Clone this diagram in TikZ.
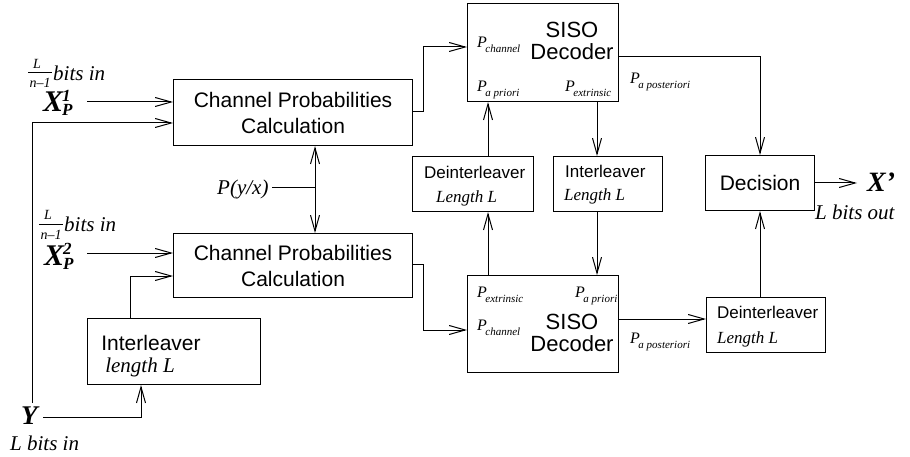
\documentclass[tikz,border=0pt]{standalone}
\usepackage{fontspec}
\setmainfont{Liberation Serif}
\setsansfont{Liberation Sans}
\usetikzlibrary{arrows.meta}
\newcommand\PP[1]{{\fontsize{16}{16}\selectfont P}\kern-1.5pt\raisebox{-5pt}{\fontsize{11}{11}\selectfont #1}}
\newcommand\XPlab[1]{{\fontsize{30}{30}\selectfont X}\kern-1pt\rlap{\raisebox{10pt}{\fontsize{17}{17}\selectfont #1}}\raisebox{-4pt}{\fontsize{17}{17}\selectfont P}}
\tikzset{
  box/.style={draw, line width=1.1pt, inner sep=0pt, anchor=north west},
  big/.style={font=\sffamily\fontsize{21}{26}\selectfont, align=center},
  sis/.style={font=\sffamily\fontsize{22}{22}\selectfont, align=center, inner sep=0pt},
  sml/.style={font=\sffamily\fontsize{17}{20}\selectfont, inner sep=0pt, anchor=base west},
  itl/.style={font=\itshape\fontsize{17}{20}\selectfont, inner sep=0pt, anchor=base west},
  itb/.style={font=\itshape\fontsize{21}{24}\selectfont, inner sep=0pt, anchor=base west},
  itf/.style={font=\itshape\fontsize{14}{14}\selectfont, inner sep=0pt, anchor=base},
  bi/.style={font=\bfseries\itshape, inner sep=0pt, anchor=base west},
  pl/.style={font=\itshape, inner sep=0pt, anchor=base west},
  conn/.style={line width=1pt},
  arr/.style={conn, -{Straight Barb[length=16pt,width=9pt]}},
  darr/.style={conn, {Straight Barb[length=16pt,width=9pt]}-{Straight Barb[length=16pt,width=9pt]}},
}
\begin{document}
\begin{tikzpicture}[x=1pt,y=-1pt]
\fill[white] (0,0) rectangle (910,457);
\useasboundingbox (0,0) rectangle (910,457);

% boxes
\node[box, big, minimum width=239pt, minimum height=66pt] (cpc1) at (173,79) {Channel Probabilities\\Calculation};
\node[box, big, minimum width=239pt, minimum height=64pt] (cpc2) at (173,233) {Channel Probabilities\\Calculation};
\node[box, minimum width=173pt, minimum height=66pt] (intl) at (87,318) {};
\node[box, minimum width=151pt, minimum height=98pt] (siso1) at (467,3) {};
\node[box, minimum width=151pt, minimum height=97pt] (siso2) at (467,275) {};
\node[box, minimum width=121pt, minimum height=55pt] (deint1) at (412,156) {};
\node[box, minimum width=109pt, minimum height=55pt] (intl2) at (553,156) {};
\node[box, big, minimum width=109pt, minimum height=55pt] (dec) at (705,155) {Decision};
\node[box, minimum width=119pt, minimum height=55pt] (deint2) at (706,297) {};

% box texts
\node[font=\sffamily\fontsize{21}{21}\selectfont, inner sep=0pt, anchor=base] (intlt) at (151,350) {Interleaver};
\node[font=\itshape\fontsize{21}{21}\selectfont, inner sep=0pt, anchor=base] (intll) at (140,372) {length L};
\node[sis] (siso1t) at (572,41) {SISO\\Decoder};
\node[sis] (siso2t) at (572,333) {SISO\\Decoder};
\node[sml] (d1t) at (424,179) {Deinterleaver};
\node[itl] (d1l) at (436,203) {Length L};
\node[sml] (i2t) at (565,178) {Interleaver};
\node[itl] (i2l) at (564,201) {Length L};
\node[sml] (d2t) at (717,318) {Deinterleaver};
\node[itl] (d2l) at (717,343) {Length L};

% P labels
\node[pl] (p1c) at (477,48) {\PP{channel}};
\node[pl] (p1a) at (477,92) {\PP{a priori}};
\node[pl] (p1e) at (565,92) {\PP{extrinsic}};
\node[pl] (p1p) at (630,84) {\PP{a posteriori}};
\node[pl] (p2e) at (477,297) {\PP{extrinsic}};
\node[pl] (p2a) at (575,297) {\PP{a priori}};
\node[pl] (p2c) at (477,330) {\PP{channel}};
\node[pl] (p2p) at (630,343) {\PP{a posteriori}};

% left labels
\node[itf] (fn1) at (37,69) {L};
\node[itf] (fd1) at (40,88) {n–1};
\draw[line width=0.7pt] (28,72) -- (52,72);
\node[itb] (bi1) at (53,81) {bits in};
\node[bi] (xp1) at (43,112) {\XPlab{1}};
\node[itf] (fn2) at (48,220) {L};
\node[itf] (fd2) at (51,240) {n–1};
\draw[line width=0.7pt] (39,224) -- (63,224);
\node[itb] (bi2) at (64,232) {bits in};
\node[bi] (xp2) at (44,265) {\XPlab{2}};
\node[bi, font=\bfseries\itshape\fontsize{27}{27}\selectfont] (ylab) at (21,424) {Y};
\node[itb] (ybits) at (10,450) {L bits in};
\node[bi, font=\bfseries\itshape\fontsize{28}{28}\selectfont] (xout) at (867,192) {X’};
\node[itb] (outbits) at (815,220) {L bits out};
\node[itb] (pyx) at (217,195) {P(y/x)};

% coordinates
\coordinate (x1s) at (87,102);
\coordinate (x2s) at (87,253);
\coordinate (ytop) at (32,403);
\coordinate (yr) at (43,417);
\coordinate (ptick) at (272,188);
\coordinate (xend) at (857,183);

% connectors
\draw[arr] (x1s) -- (x1s -| cpc1.west);
\draw[arr] (ytop) |- (cpc1.west |- 0,123);
\draw[arr] (x2s) -- (x2s -| cpc2.west);
\draw[arr] (intl.north -| 130,0) |- (cpc2.west |- 0,276);
\draw[arr] (yr) -| (intl.south -| 141,0);
\draw[arr] (cpc1.east |- 0,112) -- (423,112) |- (siso1.west |- 0,47);
\draw[arr] (cpc2.east |- 0,264) -- (423,264) |- (siso2.west |- 0,330);
\draw[darr] (cpc1.south -| 315,0) -- (cpc2.north -| 315,0);
\draw[conn] (ptick) -- (ptick -| 315,0);
\draw[arr] (siso1.south -| 597,0) -- (intl2.north -| 597,0);
\draw[arr] (intl2.south -| 597,0) -- (siso2.north -| 597,0);
\draw[arr] (siso2.north -| 488,0) -- (deint1.south -| 488,0);
\draw[arr] (deint1.north -| 488,0) -- (siso1.south -| 488,0);
\draw[arr] (siso1.east |- 0,57) -| (dec.north -| 760,0);
\draw[arr] (siso2.east |- 0,319) -- (deint2.west |- 0,319);
\draw[arr] (deint2.north -| 760,0) -- (dec.south -| 760,0);
\draw[arr] (dec.east |- 0,183) -- (xend);
\end{tikzpicture}
\end{document}
